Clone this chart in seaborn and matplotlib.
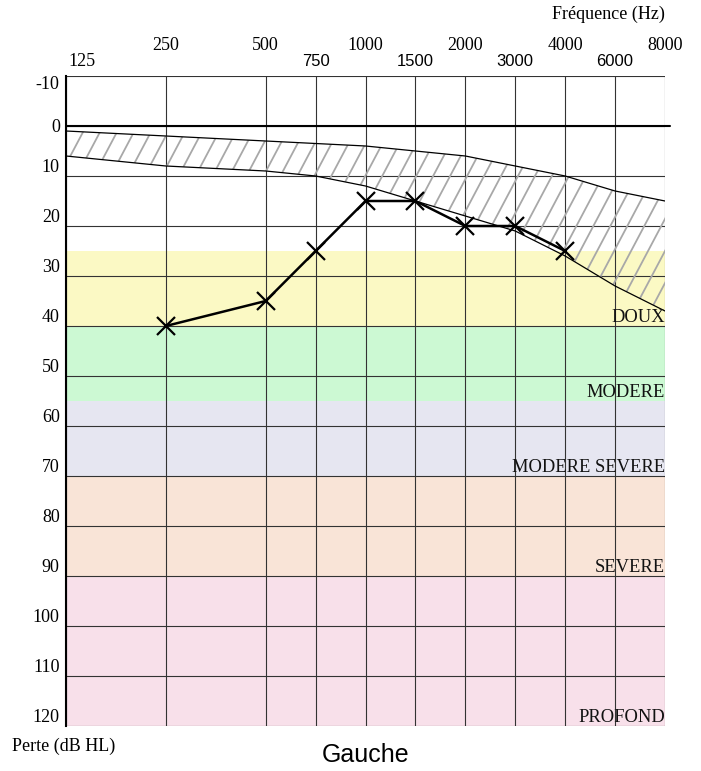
import numpy as np
import matplotlib
matplotlib.use("Agg")
import matplotlib.pyplot as plt
import seaborn as sns
from matplotlib.collections import LineCollection

# --- data ---
freqs = [125, 250, 500, 750, 1000, 1500, 2000, 3000, 4000, 6000, 8000]
octave_labels = ["250", "500", "1000", "2000", "4000", "8000"]
half_labels = ["750", "1500", "3000", "6000"]

# zone de normalite (hachuree)
norm_upper = [1, 2, 3, 3.5, 4, 5, 6, 8, 10, 13, 15]
norm_lower = [6, 8, 9, 10, 12, 15, 18, 21, 26, 32, 37]

# seuils mesures (oreille gauche)
test_freqs = [250, 500, 750, 1000, 1500, 2000, 3000, 4000]
test_db = [40, 35, 25, 15, 15, 20, 20, 25]

# degres de perte
band_names = ["DOUX", "MODERE", "MODERE SEVERE", "SEVERE", "PROFOND"]
band_top = [25, 40, 55, 70, 90]
band_bottom = [40, 55, 70, 90, 120]
band_colors = ["#fbf9c4", "#ccf9d3", "#e6e6f1", "#f9e4d7", "#f8e0ea"]

y_ticks = list(range(-10, 121, 10))


def freq_pos(f):
    # echelle audiogramme : octaves a 2 unites, demi-octaves au milieu
    k = np.log2(f / 125.0)
    base = np.floor(k + 1e-9)
    return 2 * base + (0 if abs(k - base) < 1e-9 else 1)


sns.set_style("white")
plt.rcParams['font.family'] = ['Liberation Serif', 'DejaVu Serif']
plt.rcParams['text.color'] = 'black'
plt.rcParams['ytick.labelcolor'] = 'black'

W, H = 701, 771
fig = plt.figure(figsize=(W / 100, H / 100), dpi=100)
ax = fig.add_axes([66 / W, 45 / H, 599 / W, 650 / H])

xs = np.array([freq_pos(f) for f in freqs])
ax.set_xlim(0, 12)
ax.set_ylim(120, -10)

# bandes de couleur
for name, t, b, c in zip(band_names, band_top, band_bottom, band_colors):
    ax.axhspan(t, b, color=c, zorder=0, lw=0)
    ax.text(12, b, name, ha="right", va="bottom", fontsize=13.3,
            color="#111111", zorder=6)

# grille
ax.set_axisbelow(True)
ax.set_xticks(xs)
ax.set_xticklabels([])
ax.set_yticks(y_ticks)
ax.set_yticklabels([str(v) for v in y_ticks], fontsize=13)
ax.grid(True, color="#333333", lw=0.8)
ax.tick_params(axis="x", length=0)
ax.tick_params(axis="y", length=3, width=1, direction="out", color="black", pad=1.5)
for lab, v in zip(ax.get_yticklabels(), y_ticks):
    if v == -10:
        lab.set_verticalalignment("top")
    elif v == 0:
        lab.set_verticalalignment("center_baseline")
    else:
        lab.set_verticalalignment("bottom")

for s in ["top", "right", "bottom"]:
    ax.spines[s].set_visible(False)
ax.spines["left"].set_color("black")
ax.spines["left"].set_linewidth(1.5)

# zone hachuree
poly = ax.fill_between(xs, norm_upper, norm_lower, facecolor="none",
                       edgecolor="none", zorder=2)
clip = poly.get_paths()[0]
step = 0.34
span = 2.65
segs = [[(x0, 45), (x0 + span, -5)] for x0 in np.arange(-3.0, 12.5, step)]
hatch = LineCollection(segs, colors="#a8a8a8", linewidths=1.3, zorder=2)
ax.add_collection(hatch)
hatch.set_clip_path(clip, ax.transData)
ax.plot(xs, norm_upper, color="black", lw=0.9, zorder=3)
ax.plot(xs, norm_lower, color="black", lw=0.9, zorder=3)

# ligne 0 dB
ax.axhline(0, xmin=0, xmax=1.008, color="black", lw=1.5, zorder=4, clip_on=False)

# seuils
sns.lineplot(x=[freq_pos(f) for f in test_freqs], y=test_db, ax=ax,
             color="black", linewidth=1.8, marker="x", markersize=13,
             markeredgewidth=1.6, markeredgecolor="black", zorder=5)

# etiquettes de frequence en haut
top_y = 1 - 45 / H
low_y = 1 - 62 / H
trans = matplotlib.transforms.blended_transform_factory(ax.transData, fig.transFigure)
for lab in octave_labels:
    ax.text(freq_pos(int(lab)), top_y, lab, ha="center", va="center",
            fontsize=13, transform=trans)
ax.text(0.04, low_y, "125", ha="left", va="center", fontsize=13, transform=trans)
for lab in half_labels:
    ax.text(freq_pos(int(lab)), low_y, lab, ha="center", va="center",
            fontsize=12, family=["Liberation Sans", "DejaVu Sans"], transform=trans)

fig.text(665 / W, 1 - 14 / H, "Fréquence (Hz)", ha="right", va="center", fontsize=13)
fig.text(12 / W, 1 - 746 / H, "Perte (dB HL)", ha="left", va="center", fontsize=13)
fig.text(366 / W, 1 - 755 / H, "Gauche", ha="center", va="center", fontsize=18,
         family=["Liberation Sans", "DejaVu Sans"])

fig.savefig("out.png", dpi=100)
